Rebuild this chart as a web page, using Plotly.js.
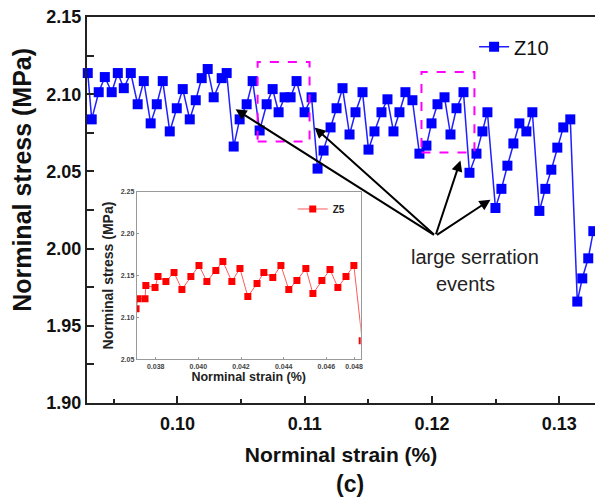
<!DOCTYPE html>
<html>
<head>
<meta charset="utf-8">
<script src="https://cdn.plot.ly/plotly-3.0.1.min.js"></script>
<style>html,body{margin:0;padding:0;background:#fff;}#chart{width:595px;height:497px;}</style>
</head>
<body>
<div id="chart"></div>
<script>
// Main series Z10: nominal strain (%) and nominal stress (MPa)
const z10Strain = [0.09296,0.09327,0.09382,0.09430,0.09484,0.09532,0.09579,0.09634,0.09688,0.09736,
  0.09790,0.09838,0.09885,0.09940,0.09995,0.10042,0.10097,0.10144,0.10191,0.10238,
  0.10285,0.10348,0.10387,0.10442,0.10489,0.10544,0.10591,0.10646,0.10701,0.10748,
  0.10795,0.10842,0.10889,0.10936,0.10999,0.11054,0.11101,0.11148,0.11203,0.11250,
  0.11297,0.11352,0.11399,0.11454,0.11501,0.11548,0.11603,0.11650,0.11697,0.11744,
  0.11791,0.11846,0.11901,0.11956,0.11996,0.12043,0.12098,0.12145,0.12192,0.12247,
  0.12294,0.12349,0.12396,0.12435,0.12498,0.12545,0.12592,0.12639,0.12686,0.12741,
  0.12788,0.12843,0.12890,0.12937,0.12984,0.13031,0.13086,0.13141,0.13180,0.13227,
  0.13267];
const z10Stress = [2.1137,2.0837,2.1013,2.1111,2.1013,2.1137,2.1039,2.1137,2.0935,2.1085,
  2.0811,2.0935,2.1085,2.0759,2.0909,2.1033,2.0837,2.0961,2.1104,2.1163,
  2.0980,2.1104,2.1137,2.0661,2.0837,2.0935,2.1085,2.0765,2.0935,2.1033,
  2.0883,2.0980,2.0980,2.1085,2.0883,2.0980,2.0518,2.0635,2.0785,2.0909,
  2.1039,2.0739,2.0883,2.1013,2.0641,2.0759,2.0883,2.0967,2.0759,2.0883,
  2.1013,2.0961,2.0615,2.0667,2.0811,2.0935,2.0980,2.0739,2.0909,2.1013,
  2.0491,2.0615,2.0759,2.0883,2.0263,2.0387,2.0537,2.0681,2.0811,2.0759,
  2.0883,2.0244,2.0387,2.0511,2.0654,2.0785,2.0837,1.9657,1.9807,1.9937,
  2.0113];

// Inset series Z5
const z5Strain = [0.03708,0.03717,0.03750,0.03754,0.03797,0.03811,0.03848,0.03886,0.03923,0.03965,
  0.04003,0.04040,0.04082,0.04115,0.04157,0.04195,0.04232,0.04275,0.04307,0.04349,
  0.04387,0.04424,0.04462,0.04504,0.04537,0.04579,0.04617,0.04654,0.04692,0.04729,
  0.04768];
const z5Stress = [2.1104,2.1224,2.1224,2.1380,2.1356,2.1488,2.1428,2.1536,2.1332,2.1488,
  2.1620,2.1428,2.1560,2.1668,2.1428,2.1584,2.1248,2.1404,2.1536,2.1476,
  2.1620,2.1332,2.1440,2.1584,2.1284,2.1440,2.1572,2.1356,2.1488,2.1620,
  2.0721];

// Inset x tick labels
const insetTickVals = [0.038,0.040,0.042,0.044,0.046,0.0473];
const insetTickText = ['0.038','0.040','0.042','0.044','0.046','0.048'];

// "large serration events" arrows (tail shared, tips on the marked drops)
const arrowTail = [0.12027, 2.0083];
const arrowTipStrain = [0.10457, 0.11077, 0.12223, 0.12459];
const arrowTipStress = [2.0902, 2.0785, 2.0571, 2.0317];

// dashed highlight boxes [x0, x1], [y0, y1]
const boxStrain = [[0.1063, 0.11038], [0.11917, 0.12333]];
const boxStress = [[2.0694, 2.1208], [2.0623, 2.1143]];

const FONT = 'Arial, "Liberation Sans", Helvetica, sans-serif';

const traces = [
  {
    x: z10Strain, y: z10Stress, name: 'Z10', type: 'scatter', mode: 'lines+markers',
    xaxis: 'x', yaxis: 'y', legend: 'legend', cliponaxis: false,
    line: {color: '#1f1fff', width: 1.5},
    marker: {symbol: 'square', size: 10, color: '#0000ff'}
  },
  {
    x: z5Strain, y: z5Stress, name: 'Z5', type: 'scatter', mode: 'lines+markers',
    xaxis: 'x2', yaxis: 'y2', legend: 'legend2',
    line: {color: '#ff5a5a', width: 1},
    marker: {symbol: 'square', size: 7, color: '#ff0000'}
  }
];

const annotations = [];
for (let i = 0; i < arrowTipStrain.length; i++) {
  annotations.push({
    xref: 'x', yref: 'y', axref: 'x', ayref: 'y',
    x: arrowTipStrain[i], y: arrowTipStress[i], ax: arrowTail[0], ay: arrowTail[1],
    text: '', showarrow: true, arrowhead: 2, arrowsize: 1.1, arrowwidth: 2,
    arrowcolor: '#000', standoff: 0, startstandoff: 0
  });
}
annotations.push({xref: 'paper', yref: 'paper', x: 0.7638, y: 0.3782, text: 'large serration',
  showarrow: false, xanchor: 'center', yanchor: 'middle', font: {family: FONT, size: 20, color: '#222'}});
annotations.push({xref: 'paper', yref: 'paper', x: 0.7441, y: 0.3083, text: 'events',
  showarrow: false, xanchor: 'center', yanchor: 'middle', font: {family: FONT, size: 20, color: '#222'}});
annotations.push({xref: 'paper', yref: 'paper', x: 0.5177, y: -0.2105, text: '(c)',
  showarrow: false, xanchor: 'center', yanchor: 'middle', font: {family: FONT, size: 23, weight: 'bold', color: '#111'}});
// main y-axis title (placed as in the original figure, slightly above the axis centre)
annotations.push({xref: 'paper', yref: 'paper', x: -0.128, y: 0.578, text: 'Norminal stress (MPa)',
  textangle: -90, showarrow: false, xanchor: 'center', yanchor: 'middle',
  font: {family: FONT, size: 25, weight: 'bold', color: '#111'}});

const shapes = boxStrain.map((b, i) => ({
  type: 'rect', xref: 'x', yref: 'y', x0: b[0], x1: b[1], y0: boxStress[i][0], y1: boxStress[i][1],
  line: {color: '#ff00ff', width: 2, dash: 'dash'}, fillcolor: 'rgba(0,0,0,0)'
}));

const layout = {
  width: 595, height: 497,
  margin: {l: 87, r: 0, t: 17, b: 94},
  paper_bgcolor: '#fff', plot_bgcolor: '#fff',
  font: {family: FONT, color: '#111'},
  showlegend: true,
  xaxis: {
    domain: [0, 1], anchor: 'y', range: [0.0929, 0.1328], dtick: 0.01, tick0: 0, tickformat: '.2f',
    ticks: 'inside', ticklen: 7, tickwidth: 2, tickcolor: '#222',
    showline: true, linewidth: 2, linecolor: '#222', mirror: true,
    showgrid: false, zeroline: false, automargin: false, ticklabelstandoff: 3,
    minor: {dtick: 0.005, ticks: 'inside', ticklen: 4, tickwidth: 2, tickcolor: '#222', showgrid: false},
    tickfont: {family: FONT, size: 18, weight: 'bold', color: '#111'},
    title: {text: 'Norminal strain (%)', font: {family: FONT, size: 21, weight: 'bold', color: '#111'}, standoff: 15}
  },
  yaxis: {
    domain: [0, 1], anchor: 'x', range: [1.90, 2.15], dtick: 0.05, tick0: 0, tickformat: '.2f',
    ticks: 'inside', ticklen: 7, tickwidth: 2, tickcolor: '#222',
    showline: true, linewidth: 2, linecolor: '#222', mirror: false,
    showgrid: false, zeroline: false, automargin: false,
    minor: {dtick: 0.025, ticks: 'inside', ticklen: 7, tickwidth: 2, tickcolor: '#222', showgrid: false},
    tickfont: {family: FONT, size: 18, weight: 'bold', color: '#111'}
  },
  xaxis2: {
    domain: [0.0978, 0.5388], anchor: 'y2', range: [0.03711, 0.04761],
    tickvals: insetTickVals, ticktext: insetTickText,
    ticks: 'inside', ticklen: 2, tickwidth: 1, tickcolor: '#999',
    showline: true, linewidth: 1, linecolor: '#999', mirror: true,
    showgrid: false, zeroline: false, automargin: false,
    tickfont: {family: FONT, size: 7, weight: 'bold', color: '#444'},
    title: {text: 'Norminal strain (%)', font: {family: FONT, size: 12.5, weight: 'bold', color: '#222'}, standoff: 3}
  },
  yaxis2: {
    domain: [0.1132, 0.5474], anchor: 'x2', range: [2.05, 2.25], dtick: 0.05, tick0: 0, tickformat: '.2f',
    ticks: 'inside', ticklen: 2, tickwidth: 1, tickcolor: '#999',
    showline: true, linewidth: 1, linecolor: '#999', mirror: true,
    showgrid: false, zeroline: false, automargin: false,
    tickfont: {family: FONT, size: 7, weight: 'bold', color: '#444'},
    title: {text: 'Norminal stress (MPa)', font: {family: FONT, size: 14, weight: 'bold', color: '#222'}, standoff: 3}
  },
  legend: {
    x: 0.762, y: 0.923, xanchor: 'left', yanchor: 'middle', bgcolor: 'rgba(0,0,0,0)',
    borderwidth: 0, font: {family: FONT, size: 20, color: '#111'}
  },
  legend2: {
    x: 0.405, y: 0.5026, xanchor: 'left', yanchor: 'middle', bgcolor: 'rgba(0,0,0,0)',
    borderwidth: 0, font: {family: FONT, size: 10, weight: 'bold', color: '#222'}
  },
  annotations: annotations,
  shapes: shapes
};

Plotly.newPlot('chart', traces, layout, {displayModeBar: false, staticPlot: true});
</script>
</body>
</html>
